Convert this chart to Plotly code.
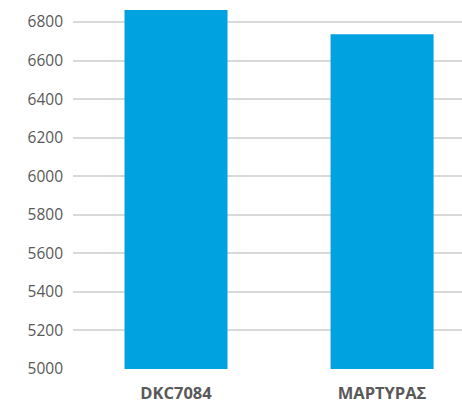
import plotly.graph_objects as go

categories = ["DKC7084", "ΜΑΡΤΥΡΑΣ"]
values = [6862, 6736]
y_ticks = [5000, 5200, 5400, 5600, 5800, 6000, 6200, 6400, 6600, 6800]

fig = go.Figure(go.Bar(x=categories, y=values, marker=dict(color="#00A3E0", line=dict(width=0))))

fig.update_layout(
    width=462, height=404,
    margin=dict(l=73, r=0, t=10, b=35, autoexpand=False),
    paper_bgcolor="white", plot_bgcolor="white",
    bargap=0.5,
    showlegend=False,
    font=dict(family="Open Sans", color="#595959", size=15.5),
)
fig.update_xaxes(
    range=[-0.5, 1.388], showgrid=False, showline=False, zeroline=False,
    tickfont=dict(size=16.5, color="#595959", family="Open Sans", weight="bold"),
    ticklabelstandoff=12,
)
fig.update_yaxes(
    range=[5000, 6862], tickvals=y_ticks, showgrid=True, gridcolor="#d9d9d9", gridwidth=2,
    zeroline=False, showline=False, ticklabelstandoff=9,
    tickfont=dict(size=15.5, color="#595959", family="Open Sans"),
)
fig.write_html("out.html", config={"displayModeBar": False},
               post_script="document.body.style.margin='0';")
